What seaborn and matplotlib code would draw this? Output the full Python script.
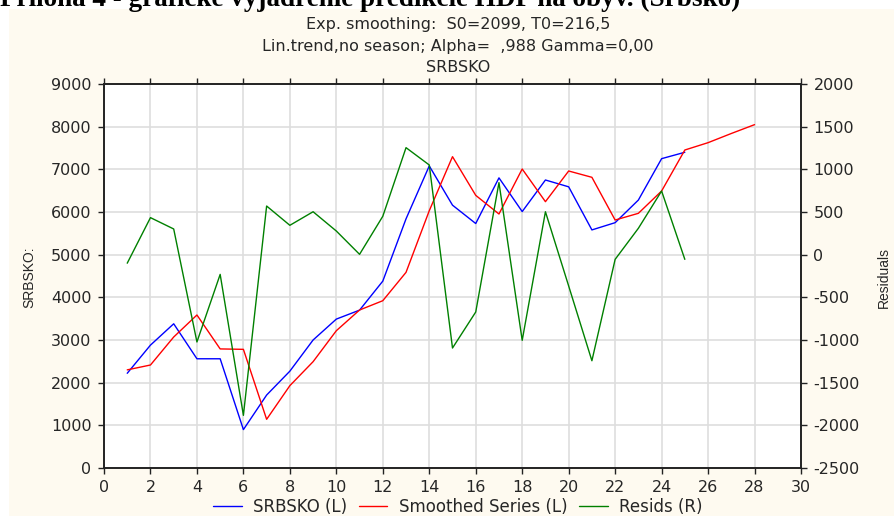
import matplotlib
matplotlib.use("Agg")
import matplotlib.pyplot as plt
from matplotlib.patches import Rectangle
from matplotlib.lines import Line2D
import seaborn as sns
import pandas as pd

# --- data -------------------------------------------------------------
period = list(range(1, 26))
period_fc = list(range(1, 29))

srbsko = [2220, 2880, 3380, 2560, 2560, 900, 1710, 2270, 3000, 3490,
          3700, 4380, 5840, 7080, 6160, 5730, 6800, 6010, 6750, 6590,
          5580, 5750, 6280, 7250, 7400]

smoothed = [2300, 2414, 3070, 3586, 2791, 2781, 1141, 1930, 2492, 3218,
            3703, 3921, 4586, 6030, 7297, 6390, 5953, 7008, 6242, 6961,
            6813, 5812, 5969, 6492, 7453, 7625, 7840, 8047]

resids = [-100, 434, 301, -1023, -231, -1883, 570, 344, 503, 277,
          4, 450, 1254, 1051, -1094, -672, 844, -1004, 503, -367,
          -1243, -55, 309, 746, -55]

x_ticks = list(range(0, 31, 2))
left_ticks = list(range(0, 9001, 1000))
right_ticks = list(range(-2500, 2001, 500))

title_lines = ["Exp. smoothing:  S0=2099, T0=216,5",
               "Lin.trend,no season; Alpha=  ,988 Gamma=0,00",
               "SRBSKO"]
header = "Príloha 4 - grafické vyjadrenie predikcie HDP na obyv. (Srbsko)"
legend_labels = ["SRBSKO (L)", "Smoothed Series (L)", "Resids (R)"]

# --- style ------------------------------------------------------------
sns.set_style("white")
plt.rcParams["font.family"] = ["DejaVu Sans"]
plt.rcParams["axes.unicode_minus"] = False

W, H = 895, 516
fig = plt.figure(figsize=(W / 100, H / 100), dpi=100, facecolor="white")

panel_col = "#FEFAF0"
fig.patches.append(Rectangle((9 / W, 0), 1 - 9 / W, 1 - 9 / H,
                             transform=fig.transFigure, facecolor=panel_col,
                             edgecolor="none", zorder=-10))

# document heading running above the chart panel
fig.text(0.0, 1 - 6 / H, header, family="Liberation Serif", weight="bold",
         fontsize=19.5, ha="left", va="baseline", color="black")

ax = fig.add_axes([104 / W, 1 - 468 / H, (801 - 104) / W, (468 - 84) / H])
ax.set_facecolor("white")
ax2 = ax.twinx()

df_obs = pd.DataFrame({"t": period, "v": srbsko})
df_sm = pd.DataFrame({"t": period_fc, "v": smoothed})
df_res = pd.DataFrame({"t": period, "v": resids})

lw = 1.0
sns.lineplot(data=df_obs, x="t", y="v", ax=ax, color="#0000FF", linewidth=lw)
sns.lineplot(data=df_sm, x="t", y="v", ax=ax, color="#FF0000", linewidth=lw)
sns.lineplot(data=df_res, x="t", y="v", ax=ax2, color="#008000", linewidth=lw)

ax.set_xlim(0, 30)
ax.set_ylim(0, 9000)
ax2.set_ylim(-2500, 2000)
ax.set_xticks(x_ticks)
ax.set_yticks(left_ticks)
ax2.set_yticks(right_ticks)

ax.grid(True, color="#DEDEDE", linewidth=1.2)
ax.set_axisbelow(True)
ax2.grid(False)

for a in (ax, ax2):
    for s in a.spines.values():
        s.set_color("#222222")
        s.set_linewidth(1.2)

tick_fs = 11.5
ax.tick_params(axis="both", direction="out", length=4, width=1,
               color="#222222", labelsize=tick_fs, pad=5,
               top=True, labeltop=False, bottom=True, left=True)
ax2.tick_params(axis="y", direction="out", length=4, width=1,
                color="#222222", labelsize=tick_fs, pad=5, right=True)

ax.set_xlabel("")
ax.set_ylabel("")
ax2.set_ylabel("")
fig.text(29.5 / W, 1 - 277.5 / H, "SRBSKO:", rotation=90, ha="center",
         va="center", fontsize=10, family="Liberation Sans")
fig.text(884 / W, 1 - 277.5 / H, "Residuals", rotation=90, ha="center",
         va="center", fontsize=10, family="Liberation Sans")

cx = 458 / W
for yy, txt in zip((24, 46, 67), title_lines):
    fig.text(cx, 1 - yy / H, txt, ha="center", va="center", fontsize=11.5)

handles = [Line2D([], [], color=c, linewidth=lw)
           for c in ("#0000FF", "#FF0000", "#008000")]
fig.legend(handles, legend_labels, loc="center", ncol=3,
           bbox_to_anchor=(cx, 1 - 507 / H), frameon=False,
           fontsize=12, handlelength=1.7, columnspacing=0.7,
           handletextpad=0.7, borderaxespad=0)

fig.savefig("out.png", dpi=100, facecolor="white")
